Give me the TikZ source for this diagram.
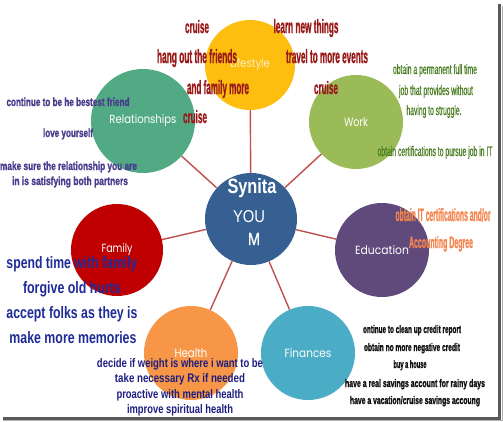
\documentclass[tikz,border=0pt]{standalone}
\usepackage{fontspec}
\usepackage{graphicx}
\setmainfont{Liberation Sans}
\newfontfamily\lblfont{Poppins}
\newfontface\heavyfont{Liberation Sans Bold}[FakeBold=1.6]
\newfontface\medfont{Liberation Sans}[FakeBold=1.0]
\definecolor{cLife}{HTML}{FDBE10}
\definecolor{cRel}{HTML}{52AA85}
\definecolor{cWork}{HTML}{9BBB59}
\definecolor{cEdu}{HTML}{604A7B}
\definecolor{cFam}{HTML}{C00000}
\definecolor{cHealth}{HTML}{F79646}
\definecolor{cFin}{HTML}{4BACC6}
\definecolor{cCen}{HTML}{376092}
\definecolor{cConn}{HTML}{C0504D}
\definecolor{tLife}{HTML}{9A1A1A}
\definecolor{tRel}{HTML}{4A3C8C}
\definecolor{tWork}{HTML}{4A7E22}
\definecolor{tEdu}{HTML}{F5854F}
\definecolor{tFam}{HTML}{1F2C98}
\definecolor{tHealth}{HTML}{1E1E82}
\definecolor{tFin}{HTML}{111111}
\newcommand\rsz[3]{\resizebox{#1pt}{#2pt}{#3}}
\begin{document}
\begin{tikzpicture}[x=1pt,y=-1pt,
  bubble/.style={circle, draw=none, inner sep=0pt, text=white, font=\lblfont},
  conn/.style={draw=cConn, line width=1.4pt},
  txt/.style={anchor=base, inner sep=0pt},
  lifetxt/.style={txt, text=tLife, font=\heavyfont},
  reltxt/.style={txt, text=tRel, font=\heavyfont},
  worktxt/.style={txt, text=tWork, font=\medfont},
  edutxt/.style={txt, text=tEdu, font=\heavyfont},
  famtxt/.style={txt, text=tFam, font=\bfseries},
  healthtxt/.style={txt, text=tHealth, font=\bfseries},
  fintxt/.style={txt, text=tFin, font=\heavyfont},
  centxt/.style={txt, text=white}]
\useasboundingbox (0,0) rectangle (503,421);
\fill[white] (0,0) rectangle (503,421);
% frame shadow
\draw[line width=3pt, black!65] (3,418) -- (499.5,418) -- (499.5,4);
\draw[line width=1pt, black!30] (3,420.5) -- (502,420.5) -- (502,6);
% bubbles
\node[bubble, fill=cCen, minimum size=92pt] (C) at (251,219) {};
\node[bubble, fill=cLife, minimum size=90pt, text=white!75!cLife] (L) at (250,65) {\rsz{40}{9}{Lifestyle}};
\node[bubble, fill=cRel, minimum size=104pt] (R) at (143,121) {\rsz{67}{9}{Relationships}};
\node[bubble, fill=cWork, minimum size=94pt] (W) at (356,122) {\rsz{24}{9}{Work}};
\node[bubble, fill=cEdu, minimum size=94pt] (E) at (382,250) {\rsz{54}{9}{Education}};
\node[bubble, fill=cFin, minimum size=94pt] (F) at (308,353) {\rsz{47}{9}{Finances}};
\node[bubble, fill=cHealth, minimum size=94pt] (H) at (191,353) {\rsz{33}{9}{Health}};
\node[bubble, fill=cFam, minimum size=92pt] (Fa) at (117,250) {\rsz{31}{9}{Family}};
% connectors
\foreach \t in {L,R,W,E,F,H,Fa} \draw[conn] (C) -- (\t);
% centre text
\node[centxt, font=\bfseries] (c1) at (252,193) {\rsz{49}{15}{Synita}};
\node[centxt] (c2) at (249,222) {\rsz{32}{12}{YOU}};
\node[centxt, font=\medfont] (c3) at (254,245) {\rsz{12}{12}{M}};
% lifestyle
\node[lifetxt] (l1) at (197,33) {\rsz{24}{13}{cruise}};
\node[lifetxt] (l2) at (197,63) {\rsz{80}{14}{hang out the friends}};
\node[lifetxt] (l3) at (218,94) {\rsz{62}{14}{and family more}};
\node[lifetxt] (l4) at (195,123) {\rsz{24}{13}{cruise}};
\node[lifetxt] (l5) at (306,33) {\rsz{65}{14}{learn new things}};
\node[lifetxt] (l6) at (327,63) {\rsz{82}{14}{travel to more events}};
\node[lifetxt] (l7) at (326,94) {\rsz{24}{13}{cruise}};
% relationships
\node[reltxt] (r1) at (68,106) {\rsz{123}{8.5}{continue to be he bestest friend}};
\node[reltxt] (r2) at (68,137) {\rsz{50}{8.5}{love yourself}};
\node[reltxt] (r3) at (68.5,170) {\rsz{137}{8.5}{make sure the relationship you are}};
\node[reltxt] (r4) at (70,185) {\rsz{116}{8.5}{in is satisfying both partners}};
% work
\node[worktxt] (w1) at (435,74) {\rsz{84}{10}{obtain a permanent full time}};
\node[worktxt] (w2) at (436,95) {\rsz{74}{10}{job that provides without}};
\node[worktxt] (w3) at (434,115) {\rsz{55}{10}{having to struggle.}};
\node[worktxt] (w4) at (435,156) {\rsz{115}{10}{obtain certifications to pursue job in IT}};
% education
\node[edutxt] (e1) at (443,221) {\rsz{95}{13}{obtain IT certifications and/or}};
\node[edutxt] (e2) at (441,248) {\rsz{64}{12}{Accounting Degree}};
% family
\node[famtxt] (f1) at (72,268) {\rsz{131}{12}{spend time with family}};
\node[famtxt] (f2) at (72,293) {\rsz{98}{12}{forgive old hurts}};
\node[famtxt] (f3) at (72,318) {\rsz{131}{12}{accept folks as they is}};
\node[famtxt] (f4) at (73,343) {\rsz{127}{12}{make more memories}};
% health
\node[healthtxt] (h1) at (180,367) {\rsz{166}{9}{decide if weight is where i want to be}};
\node[healthtxt] (h2) at (180,382) {\rsz{130}{9}{take necessary Rx if needed}};
\node[healthtxt] (h3) at (180,398) {\rsz{127}{9}{proactive with mental health}};
\node[healthtxt] (h4) at (180,413) {\rsz{106}{9}{improve spiritual health}};
% finances
\node[fintxt] (n1) at (412,333) {\rsz{98}{8}{ontinue to clean up credit report}};
\node[fintxt] (n2) at (412,351) {\rsz{96}{8}{obtain no more negative credit}};
\node[fintxt] (n3) at (410,368) {\rsz{33}{8}{buy a house}};
\node[fintxt] (n4) at (415,387) {\rsz{140}{8}{have a real savings account for rainy days}};
\node[fintxt] (n5) at (415,404) {\rsz{130}{8}{have a vacation/cruise savings accoung}};
\end{tikzpicture}
\end{document}
